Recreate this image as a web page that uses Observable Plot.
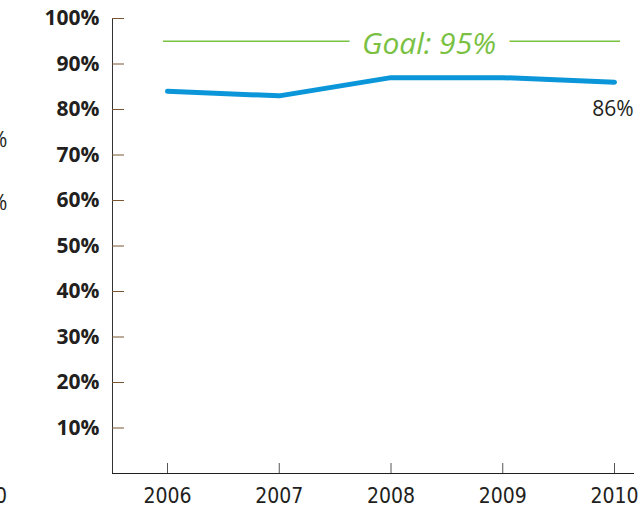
<!DOCTYPE html>
<html>
<head>
<meta charset="utf-8">
<script src="https://cdn.jsdelivr.net/npm/d3@7"></script>
<script src="https://cdn.jsdelivr.net/npm/@observablehq/plot@0.6"></script>
<style>
  html, body { margin: 0; padding: 0; background: #fff; }
  #wrap { position: relative; width: 639px; height: 514px; overflow: hidden; }
  .frag { position: absolute; color: #231f20; font-family: "Open Sans", sans-serif; font-size: 21px; line-height: 1; }
</style>
</head>
<body>
<div id="wrap"></div>
<script>
const years = [2006, 2007, 2008, 2009, 2010];
const rates = [84, 83, 87, 87, 86];
const goal = 95;
const yTicks = [10, 20, 30, 40, 50, 60, 70, 80, 90, 100];
const goalLabel = "Goal: 95%";

const data = years.map((year, i) => ({year, rate: rates[i]}));
const last = data[data.length - 1];

const ink = "#231f20";
const green = "#7ac143";
const blue = "#0a96d8";
const narrow = "'Liberation Sans Narrow', 'DejaVu Sans Condensed', 'Roboto Condensed', Roboto, sans-serif";

const chart = Plot.plot({
  width: 639,
  height: 514,
  marginLeft: 112,
  marginRight: 6,
  marginTop: 18,
  marginBottom: 41,
  style: {background: "white", color: ink, fontFamily: "'Open Sans', sans-serif"},
  x: {type: "linear", domain: [years[0], years[years.length - 1]], range: [167, 614]},
  y: {domain: [0, 100]},
  marks: [
    Plot.frame({anchor: "left", stroke: "#333"}),
    Plot.frame({anchor: "bottom", stroke: ink}),
    Plot.axisY({ticks: yTicks, tickSize: -12, stroke: "#7a5633", tickFormat: () => "", label: null}),
    Plot.axisY({ticks: yTicks, tickSize: 0, tickPadding: 13, tickFormat: d => d + "%", label: null,
      fontSize: 21, fontWeight: "bold", fill: ink}),
    Plot.axisX({ticks: years, tickSize: -10, stroke: "#555", tickFormat: () => "", label: null}),
    Plot.axisX({ticks: years, tickSize: 0, tickPadding: 15, tickFormat: d => String(d), label: null,
      fontSize: 21, fill: ink, fontFamily: narrow}),
    Plot.ruleY([goal], {x1: years[0], x2: years[years.length - 1], stroke: green, strokeWidth: 1.3, insetLeft: -4, insetRight: -6}),
    Plot.text([goal], {x: years[2], y: d => d, text: () => goalLabel, dx: 38, dy: 3,
      fill: green, stroke: "white", strokeWidth: 30, fontStyle: "italic", fontSize: 30}),
    Plot.line(data, {x: "year", y: "rate", stroke: blue, strokeWidth: 5, strokeLinecap: "round", strokeLinejoin: "round"}),
    Plot.text([last], {x: "year", y: "rate", text: d => d.rate + "%", textAnchor: "end", dx: 19, dy: 27,
      fontSize: 21, fill: ink})
  ]
});

const wrap = document.getElementById("wrap");
wrap.appendChild(chart);

// cropped fragments of a neighbouring chart at the left edge
[["%", -10, 129], ["%", -10, 192]].forEach(([t, x, y]) => {
  const s = document.createElement("span");
  s.className = "frag"; s.textContent = t;
  s.style.left = x + "px"; s.style.top = y + "px";
  wrap.appendChild(s);
});
const z = document.createElement("span");
z.className = "frag"; z.textContent = "0";
z.style.fontFamily = narrow; z.style.fontSize = "21px";
z.style.left = "-5px"; z.style.top = "486px";
wrap.appendChild(z);
</script>
</body>
</html>
